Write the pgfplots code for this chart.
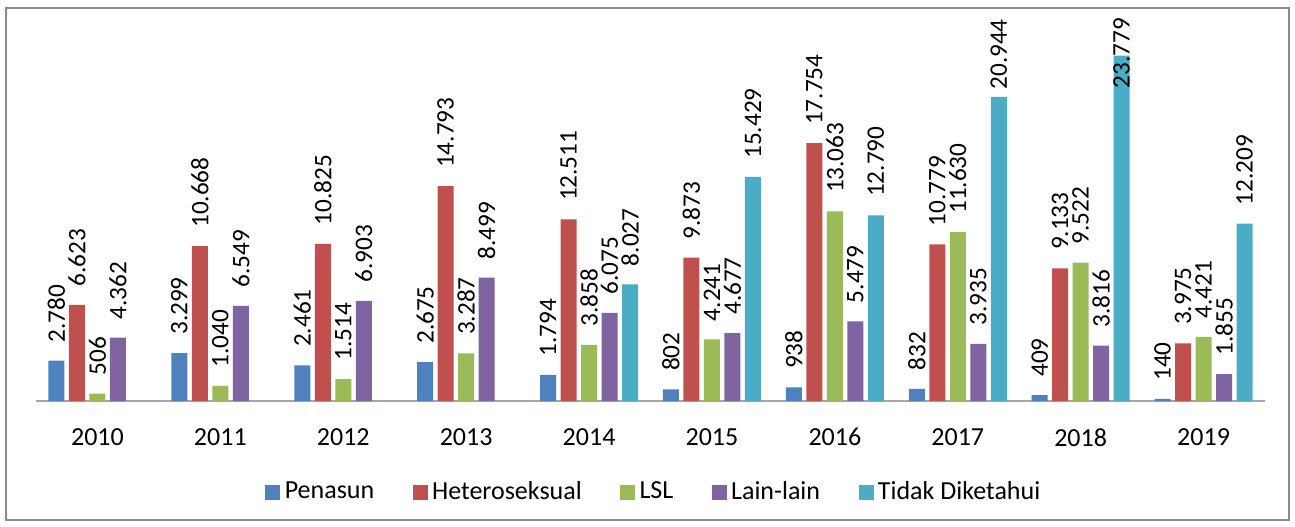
\documentclass[border=0pt]{standalone}
\usepackage{pgfplots}
\usepackage{pgfplotstable}
\pgfplotsset{compat=1.18}
\usepackage{fontspec}
\setmainfont{Carlito}
\definecolor{cBlue}{HTML}{4F81BD}
\definecolor{cRed}{HTML}{C0504D}
\definecolor{cGreen}{HTML}{9BBB59}
\definecolor{cPurple}{HTML}{8064A2}
\definecolor{cCyan}{HTML}{4BACC6}
\definecolor{axgray}{HTML}{A6A6A6}
\definecolor{bordergray}{HTML}{8C8C8C}

\pgfplotstableread{
x y
0 2780
1 3299
2 2461
3 2675
4 1794
5 802
6 938
7 832
8 409
9 140
}\penasun
\pgfplotstableread{
x y
0 6623
1 10668
2 10825
3 14793
4 12511
5 9873
6 17754
7 10779
8 9133
9 3975
}\hetero
\pgfplotstableread{
x y
0 506
1 1040
2 1514
3 3287
4 3858
5 4241
6 13063
7 11630
8 9522
9 4421
}\lsl
\pgfplotstableread{
x y
0 4362
1 6549
2 6903
3 8499
4 6075
5 4677
6 5479
7 3935
8 3816
9 1855
}\lain
\pgfplotstableread{
x y off
4 8027 0
5 15429 0
6 12790 0
7 20944 -5.5
8 23779 -25.5
9 12209 0
}\tidak

\begin{document}
\fontsize{12.6}{15}\selectfont
\begin{tikzpicture}
\begin{axis}[
  name=ax,
  scale only axis,
  width=614.5pt, height=181.5pt,
  xmin=-0.5, xmax=9.5,
  ymin=0, ymax=25000,
  clip=false,
  ybar=2.25pt,
  bar width=8pt,
  axis x line*=bottom,
  axis y line=none,
  x axis line style={-, draw=axgray, line width=1pt},
  xtick={0,...,9},
  xticklabels={2010,2011,2012,2013,2014,2015,2016,2017,2018,2019},
  major tick length=0pt,
  xticklabel style={inner sep=0pt, anchor=north, yshift=-13.5pt, font=\fontsize{13}{15}\selectfont},
  ytick=\empty,
  /pgf/number format/assume math mode=true,
  /pgf/number format/fixed,
  /pgf/number format/precision=0,
  /pgf/number format/1000 sep={.},
  nodes near coords,
  every node near coord/.append style={font=\fontsize{12.6}{15}\selectfont, inner sep=0pt, anchor=west, rotate=90, xshift=9pt, text=black},
  legend columns=5,
  legend style={at={(0.5037,-0.2507)}, anchor=center, draw=none, fill=none,
    font=\fontsize{13}{15}\selectfont,
    /tikz/every even column/.append style={column sep=17pt},
    nodes={inner sep=2.2pt}},
  legend image code/.code={\fill[#1] (0pt,-3.75pt) rectangle (7.5pt,3.75pt);},
]
\addplot[fill=cBlue, draw=none] table[x=x,y=y] {\penasun};
\addplot[fill=cRed, draw=none] table[x=x,y=y] {\hetero};
\addplot[fill=cGreen, draw=none] table[x=x,y=y] {\lsl};
\addplot[fill=cPurple, draw=none] table[x=x,y=y] {\lain};
\addplot[fill=cCyan, draw=none, visualization depends on={\thisrow{off} \as \off},
  every node near coord/.append style={xshift=\off}] table[x=x,y=y] {\tidak};
\legend{Penasun,Heteroseksual,LSL,Lain-lain,Tidak Diketahui}
\end{axis}
\path ([xshift=-18pt,yshift=-62.5pt]ax.south west) rectangle ([xshift=15pt,yshift=19pt]ax.north east);
\draw[bordergray, line width=0.8pt] ([xshift=-15pt,yshift=-59.5pt]ax.south west) rectangle ([xshift=12pt,yshift=15pt]ax.north east);
\end{tikzpicture}
\end{document}
